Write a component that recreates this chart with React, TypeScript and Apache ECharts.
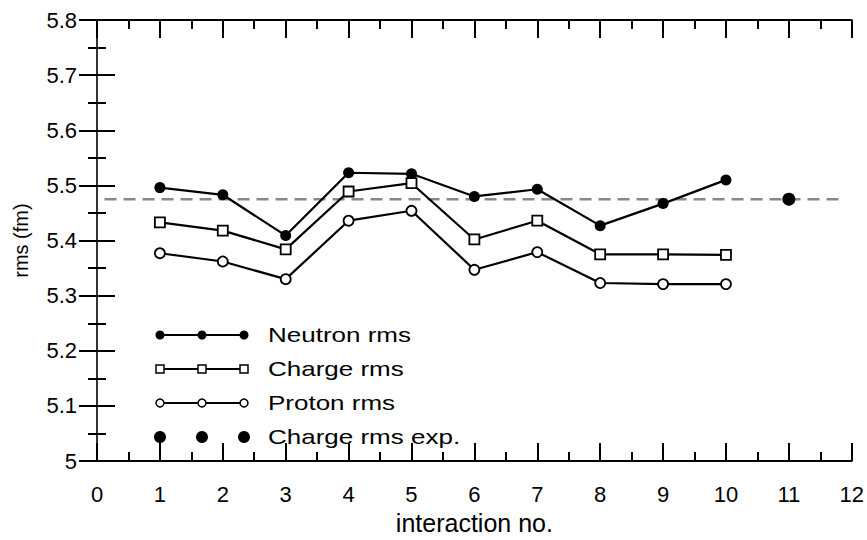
import React, { useEffect, useRef } from "react";
import * as echarts from "echarts";

const iterations = [1, 2, 3, 4, 5, 6, 7, 8, 9, 10];
const neutronRms = [5.496, 5.483, 5.409, 5.523, 5.521, 5.480, 5.493, 5.427, 5.467, 5.510];
const chargeRms = [5.433, 5.418, 5.384, 5.489, 5.504, 5.402, 5.436, 5.375, 5.375, 5.374];
const protonRms = [5.377, 5.362, 5.330, 5.436, 5.454, 5.347, 5.379, 5.323, 5.321, 5.321];
const expIteration = [11];
const expCharge = [5.475];
const refLineX = [0.12, 11.86];
const refLineY = 5.475;
const legendLabels = ["Neutron rms", "Charge rms", "Proton rms", "Charge rms exp."];

const FONT = "Liberation Sans, Arial, sans-serif";

export default function App() {
  const ref = useRef<HTMLDivElement>(null);
  useEffect(() => {
    if (!ref.current) return;
    const chart = echarts.init(ref.current, undefined, { renderer: "svg" });
    const zip = (xs: number[], ys: number[]) => xs.map((x, i) => [x, ys[i]]);

    const axisCommon = {
      axisLine: { show: true, lineStyle: { color: "#000", width: 2 } },
      axisTick: { show: true, inside: true, length: 18, lineStyle: { color: "#000", width: 2 } },
      minorTick: { show: true, splitNumber: 2, length: 9, lineStyle: { color: "#000", width: 2 } },
      splitLine: { show: false },
    };

    const legendY = [335, 369, 403, 437];
    const lx = [160, 202, 244];
    const legendGraphics: any[] = [];
    legendY.forEach((y, i) => {
      if (i < 3) {
        legendGraphics.push({
          type: "line",
          shape: { x1: lx[0], y1: y, x2: lx[2], y2: y },
          style: { stroke: "#000", lineWidth: 2 },
        });
      }
      lx.forEach((x) => {
        if (i === 0) {
          legendGraphics.push({ type: "circle", shape: { cx: x, cy: y, r: 4.5 }, style: { fill: "#000" } });
        } else if (i === 1) {
          legendGraphics.push({
            type: "rect",
            shape: { x: x - 4, y: y - 4, width: 8, height: 8 },
            style: { fill: "#fff", stroke: "#000", lineWidth: 1.5 },
          });
        } else if (i === 2) {
          legendGraphics.push({
            type: "circle",
            shape: { cx: x, cy: y, r: 4 },
            style: { fill: "#fff", stroke: "#000", lineWidth: 1.5 },
          });
        } else {
          legendGraphics.push({ type: "circle", shape: { cx: x, cy: y, r: 6 }, style: { fill: "#000" } });
        }
      });
      legendGraphics.push({
        type: "text",
        x: 268,
        y: y,
        scaleX: 1.3,
        style: {
          text: legendLabels[i],
          font: `20px ${FONT}`,
          fill: "#000",
          verticalAlign: "middle",
          textAlign: "left",
        },
      });
    });

    chart.setOption({
      animation: false,
      backgroundColor: "#fff",
      grid: { left: 97, top: 20, right: 13, bottom: 73, containLabel: false },
      xAxis: [
        {
          ...axisCommon,
          type: "value",
          min: 0,
          max: 12,
          interval: 1,
          position: "bottom",
          axisLabel: { color: "#000", fontSize: 22, fontFamily: FONT, margin: 22 },
          name: "interaction no.",
          nameLocation: "middle",
          nameGap: 40,
          nameTextStyle: { color: "#000", fontSize: 25, fontFamily: FONT },
        },
        {
          ...axisCommon,
          type: "value",
          min: 0,
          max: 12,
          interval: 1,
          position: "top",
          axisLabel: { show: false },
        },
      ],
      yAxis: [
        {
          ...axisCommon,
          type: "value",
          min: 5,
          max: 5.8,
          interval: 0.1,
          position: "left",
          axisLabel: {
            color: "#000",
            fontSize: 22,
            fontFamily: FONT,
            margin: 20,
            formatter: (v: number) => String(Number(v.toFixed(1))),
          },
          name: "rms (fm)",
          nameLocation: "middle",
          nameGap: 66,
          nameTextStyle: { color: "#000", fontSize: 20, fontFamily: FONT },
        },
        {
          ...axisCommon,
          type: "value",
          min: 5,
          max: 5.8,
          interval: 0.1,
          position: "right",
          axisLine: { show: true, lineStyle: { color: "#444", width: 1.5 } },
          axisLabel: { show: false },
        },
      ],
      series: [
        {
          type: "line",
          data: refLineX.map((x) => [x, refLineY]),
          symbol: "none",
          lineStyle: { color: "#888", width: 2.5, type: [12, 7] },
          z: 1,
        },
        {
          type: "line",
          name: "Neutron rms",
          data: zip(iterations, neutronRms),
          symbol: "circle",
          symbolSize: 11,
          itemStyle: { color: "#000" },
          lineStyle: { color: "#000", width: 2.2 },
          z: 3,
        },
        {
          type: "line",
          name: "Charge rms",
          data: zip(iterations, chargeRms),
          symbol: "rect",
          symbolSize: 10,
          itemStyle: { color: "#fff", borderColor: "#000", borderWidth: 1.8 },
          lineStyle: { color: "#000", width: 2.2 },
          z: 3,
        },
        {
          type: "line",
          name: "Proton rms",
          data: zip(iterations, protonRms),
          symbol: "circle",
          symbolSize: 10,
          itemStyle: { color: "#fff", borderColor: "#000", borderWidth: 1.8 },
          lineStyle: { color: "#000", width: 2.2 },
          z: 3,
        },
        {
          type: "scatter",
          name: "Charge rms exp.",
          data: zip(expIteration, expCharge),
          symbol: "circle",
          symbolSize: 13,
          itemStyle: { color: "#000", opacity: 1 },
          z: 4,
        },
      ],
      graphic: legendGraphics,
    });
    return () => chart.dispose();
  }, []);
  return (
    <div
      ref={ref}
      style={{ position: "absolute", left: 0, top: 0, width: 867, height: 540 }}
    />
  );
}
